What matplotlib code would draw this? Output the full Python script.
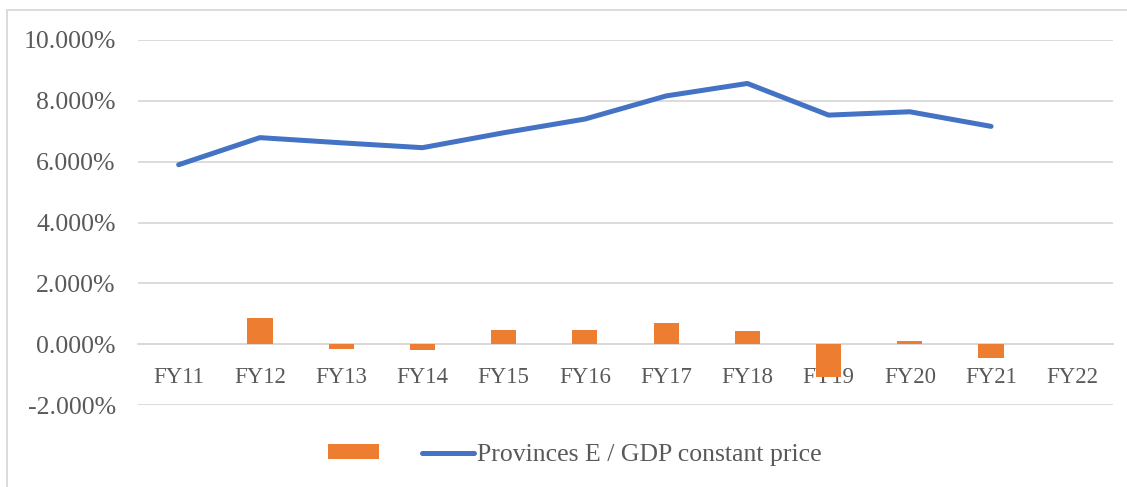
import numpy as np
import matplotlib.pyplot as plt
from matplotlib.patches import Rectangle
from matplotlib.ticker import FuncFormatter

years = ['FY11', 'FY12', 'FY13', 'FY14', 'FY15', 'FY16',
         'FY17', 'FY18', 'FY19', 'FY20', 'FY21', 'FY22']
ratio = [5.90, 6.79, 6.62, 6.46, 6.95, 7.40, 8.16, 8.57, 7.53, 7.64, 7.16, np.nan]
change = [0.0, 0.85, -0.15, -0.20, 0.48, 0.46, 0.70, 0.43, -1.07, 0.10, -0.46, np.nan]

plt.rcParams['font.family'] = ['Liberation Serif', 'DejaVu Serif']
txt = '#595959'

fig = plt.figure(figsize=(11.27, 4.87), dpi=100)
ax = fig.add_axes([0.1225, 0.168, 0.865, 0.750])

x = np.arange(len(years))
bars = ax.bar(x, change, width=0.31, color='#ED7D31', label=' ', zorder=3)
line, = ax.plot(x, ratio, color='#4472C4', lw=3.6, solid_capstyle='round',
                solid_joinstyle='round', label='Provinces E / GDP constant price', zorder=4)

ax.set_xlim(-0.5, len(years) - 0.5)
ax.set_ylim(-2, 10)
ax.set_yticks(np.arange(-2, 10.1, 2))
ax.yaxis.set_major_formatter(FuncFormatter(lambda v, p: f'{v:.3f}%'))
ax.grid(axis='y', color='#d9d9d9', lw=1.3, zorder=0)
ax.set_axisbelow(True)
for s in ['top', 'right', 'left']:
    ax.spines[s].set_visible(False)
ax.spines['bottom'].set_position(('data', 0))
ax.spines['bottom'].set_color('#d9d9d9')
ax.spines['bottom'].set_linewidth(1.3)
ax.set_xticks(x)
ax.set_xticklabels(years)
ax.tick_params(axis='x', length=0, pad=16, labelsize=16.5, colors=txt)
ax.tick_params(axis='y', length=0, pad=16, labelsize=18.5, colors=txt)

fig.legend(handles=[bars, line], loc='center', bbox_to_anchor=(0.51, 0.066),
           ncol=2, frameon=False, fontsize=18.5, labelcolor=txt,
           handlelength=2.0, handleheight=0.5, handletextpad=0.12,
           columnspacing=1.3)

fig.patches.append(Rectangle((7 / 1127, -0.01), 1.02, 1 - 10 / 487 + 0.01,
                             transform=fig.transFigure, fill=False,
                             edgecolor='#d9d9d9', lw=1.3))

fig.savefig('out.png', dpi=100)
